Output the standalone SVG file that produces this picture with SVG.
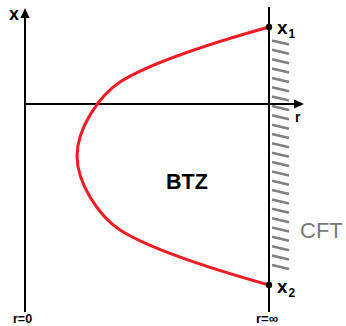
<svg xmlns="http://www.w3.org/2000/svg" width="346" height="326" viewBox="0 0 346 326">
<style>
.ax{stroke:#000;stroke-width:2;fill:none}
.hatch{stroke:#808080;stroke-width:2.6;stroke-linecap:butt}
.lbl{font-family:"Liberation Sans",Arial,sans-serif;font-weight:bold;fill:#000}
.curve{stroke:#ee1c25;stroke-width:3;fill:none}
</style>
<defs>
<path id="h" d="M272 -2 L289 2" class="hatch"/>
</defs>
<rect width="346" height="326" fill="#fff"/>
<g id="connectors">
<line class="ax" x1="25" y1="16" x2="25" y2="312"/>
<polygon points="25,8 20.5,18 29.5,18" fill="#000"/>
<line class="ax" x1="25" y1="104" x2="295" y2="104"/>
<polygon points="304,104 294,99.5 294,108.5" fill="#000"/>
<line class="ax" x1="269" y1="7" x2="269" y2="312"/>
<path class="curve" d="M269 27 C219 41,150 63,120 82 C100 95,77 128,77 156 C77 184,100 217,120 230 C150 249,219 271,269 285"/>
</g>
<g id="cft-boundary">
<use href="#h" y="42.5"/><use href="#h" y="51.85"/><use href="#h" y="61.2"/><use href="#h" y="70.55"/><use href="#h" y="79.9"/>
<use href="#h" y="89.25"/><use href="#h" y="98.6"/><use href="#h" y="107.95"/><use href="#h" y="117.3"/><use href="#h" y="126.65"/>
<use href="#h" y="136"/><use href="#h" y="145.35"/><use href="#h" y="154.7"/><use href="#h" y="164.05"/><use href="#h" y="173.4"/>
<use href="#h" y="182.75"/><use href="#h" y="192.1"/><use href="#h" y="201.45"/><use href="#h" y="210.8"/><use href="#h" y="220.15"/>
<use href="#h" y="229.5"/><use href="#h" y="238.85"/><use href="#h" y="248.2"/><use href="#h" y="257.55"/><use href="#h" y="266.9"/>
</g>
<g id="x1">
<circle cx="269" cy="27" r="3.2" fill="#000"/>
<text class="lbl" x="277" y="34" font-size="19">x</text>
<text class="lbl" x="288.5" y="37.5" font-size="12">1</text>
</g>
<g id="x2">
<circle cx="269" cy="285" r="3.2" fill="#000"/>
<text class="lbl" x="277" y="293" font-size="19">x</text>
<text class="lbl" x="288.5" y="297" font-size="12">2</text>
</g>
<g id="labels">
<text class="lbl" x="9" y="19.5" font-size="18">x</text>
<text class="lbl" x="295" y="122" font-size="14" font-weight="normal">r</text>
<text class="lbl" x="13" y="322.5" font-size="12.5">r=0</text>
<text class="lbl" x="256" y="322.5" font-size="13">r=∞</text>
</g>
<g id="btz">
<text class="lbl" x="166" y="189" font-size="21.5">BTZ</text>
</g>
<g id="cft">
<text x="300" y="238" font-family="'Liberation Sans',Arial,sans-serif" font-size="22" fill="#7a7a7a">CFT</text>
</g>
</svg>
